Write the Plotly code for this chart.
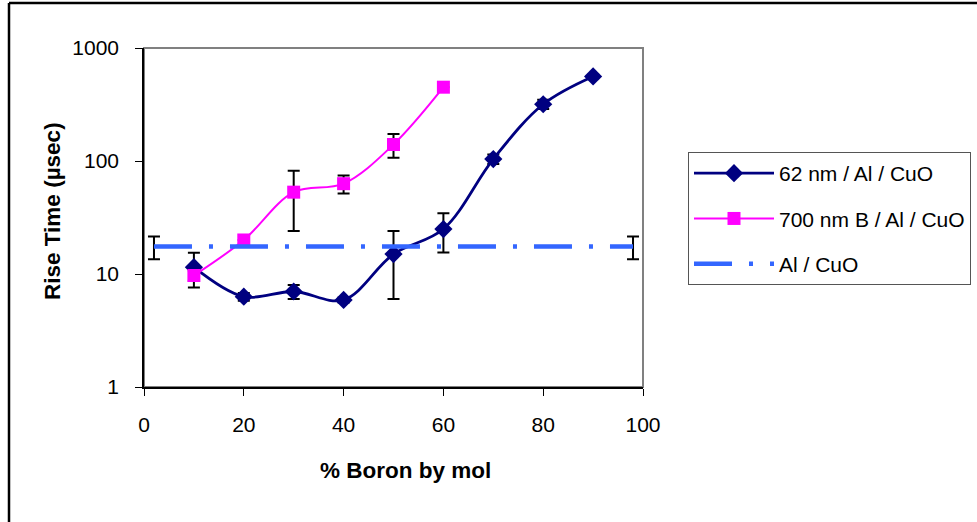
import plotly.graph_objects as go

# ---- data ----
x_62nm = [10, 20, 30, 40, 50, 60, 70, 80, 90]
y_62nm = [11.5, 6.3, 7.0, 5.9, 15, 25, 104, 318, 560]
err_62nm = [3.9, 0.5, 1.0, 0.3, 9, 9.5, 10, 30, 20]

x_700nm = [10, 20, 30, 40, 50, 60]
y_700nm = [9.7, 20, 53, 63, 140, 450]
err_700nm = [1.0, 0, 29, 11.5, 33, 0]

x_alcuo = [2, 98]
y_alcuo = [17.5, 17.5]
err_alcuo = [4, 4]

x_ticks = [0, 20, 40, 60, 80, 100]
y_ticks = [1, 10, 100, 1000]
y_ticktext = ["1", "10", "100", "1000"]

names = ["62 nm / Al / CuO", "700 nm B / Al / CuO", "Al / CuO"]

FONT = "Liberation Sans, Arial, sans-serif"

fig = go.Figure()

fig.add_trace(go.Scatter(
    x=x_62nm, y=y_62nm, name=names[0], legendgroup="a",
    mode="lines+markers",
    line=dict(color="#000080", width=2.8, shape="spline", smoothing=1.0),
    marker=dict(symbol="diamond", size=14, color="#000080"),
    error_y=dict(type="data", array=err_62nm, color="black", thickness=2, width=6),
))
fig.add_trace(go.Scatter(
    x=x_700nm, y=y_700nm, name=names[1], legendgroup="b",
    mode="lines+markers",
    line=dict(color="#FF00FF", width=2, shape="spline", smoothing=1.0),
    marker=dict(symbol="square", size=13, color="#FF00FF"),
    error_y=dict(type="data", array=err_700nm, color="black", thickness=2, width=6),
))
fig.add_trace(go.Scatter(
    x=x_alcuo, y=y_alcuo, name=names[2], legendgroup="c",
    mode="lines",
    line=dict(color="#3366FF", width=4.5, dash="38px,17px,4px,17px"),
    error_y=dict(type="data", array=err_alcuo, color="black", thickness=2, width=6),
))

L, R, T, B = 144, 643, 48, 387
W, H = 977, 522
pw, ph = R - L, B - T

def px_x(p):
    return (p - L) / pw

def px_y(p):
    return (B - p) / ph

fig.update_layout(
    width=W, height=H,
    margin=dict(l=L, r=W - R, t=T, b=H - B, pad=0, autoexpand=False),
    paper_bgcolor="white", plot_bgcolor="white",
    font=dict(family=FONT, size=21, color="black"),
    showlegend=True,
    legend=dict(
        x=px_x(688), y=px_y(152), xanchor="left", yanchor="top",
        bordercolor="#555555", borderwidth=1, bgcolor="white",
        font=dict(family=FONT, size=21, color="black"),
        itemwidth=80, tracegroupgap=15,
    ),
    xaxis=dict(
        range=[0, 100], tickvals=x_ticks, showgrid=False, zeroline=False,
        showline=True, linecolor="black", linewidth=1.5,
        ticks="outside", ticklen=7, tickwidth=1, tickcolor="black",
        tickfont=dict(family=FONT, size=21), ticklabelstandoff=11,
        automargin=False,
    ),
    yaxis=dict(
        type="log", range=[0, 3], tickvals=y_ticks, ticktext=y_ticktext,
        showgrid=False, zeroline=False,
        showline=True, linecolor="black", linewidth=1.5,
        ticks="outside", ticklen=7, tickwidth=1, tickcolor="black",
        tickfont=dict(family=FONT, size=21), ticklabelstandoff=12,
        automargin=False,
    ),
    shapes=[
        dict(type="rect", xref="paper", yref="paper", x0=0, x1=1, y0=0, y1=1,
             line=dict(color="#808080", width=2), layer="below"),
        dict(type="line", xref="paper", yref="paper",
             x0=px_x(9), x1=px_x(9), y0=px_y(3), y1=px_y(540),
             line=dict(color="black", width=2.5)),
        dict(type="line", xref="paper", yref="paper",
             x0=px_x(9), x1=px_x(990), y0=px_y(3), y1=px_y(3),
             line=dict(color="black", width=2.5)),
    ],
    annotations=[
        dict(text="<b>% Boron by mol</b>", xref="paper", yref="paper",
             x=px_x(405), y=px_y(470), xanchor="center", yanchor="middle",
             showarrow=False, font=dict(family=FONT, size=22.5)),
        dict(text="<b>Rise Time (µsec)</b>", xref="paper", yref="paper",
             x=px_x(52), y=px_y(211), xanchor="center", yanchor="middle",
             textangle=-90, showarrow=False, font=dict(family=FONT, size=22.5)),
    ],
)

fig.write_html(
    "out.html",
    config=dict(displayModeBar=False),
    post_script="document.body.style.margin='0';document.body.style.overflow='hidden';",
)
